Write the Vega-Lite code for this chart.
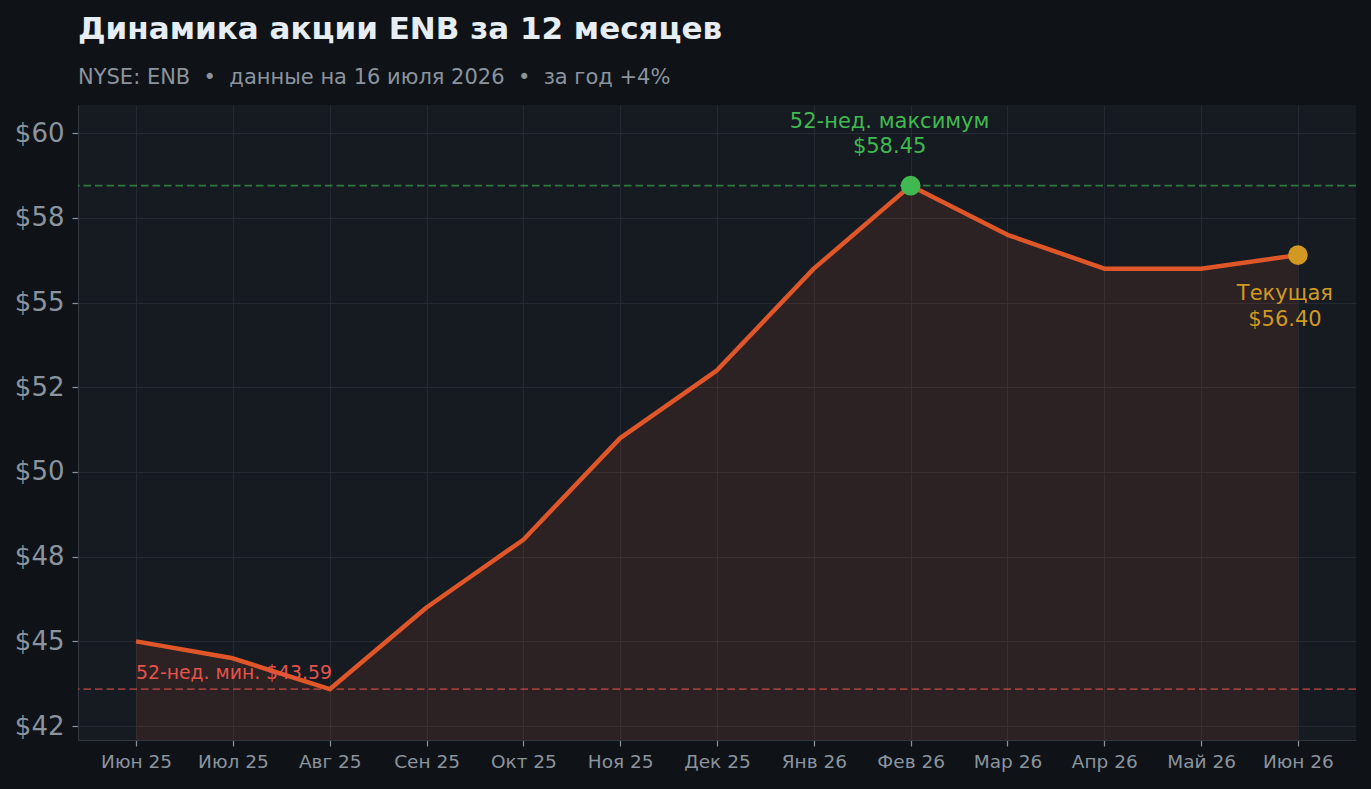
{
  "$schema": "https://vega.github.io/schema/vega-lite/v6.json",
  "width": 1278,
  "height": 635,
  "autosize": "none",
  "padding": {"left": 78, "top": 105, "right": 15, "bottom": 49},
  "background": "#0f1317",
  "title": {
    "text": "Динамика акции ENB за 12 месяцев",
    "subtitle": "NYSE: ENB\u00a0\u00a0•\u00a0\u00a0данные на 16 июля 2026\u00a0\u00a0•\u00a0\u00a0за год +4%",
    "anchor": "start",
    "frame": "group",
    "font": "DejaVu Sans",
    "fontSize": 31,
    "fontWeight": "bold",
    "color": "#e6edf3",
    "subtitleFont": "DejaVu Sans",
    "subtitleFontSize": 21,
    "subtitleColor": "#8b949e",
    "subtitlePadding": 21,
    "offset": 16
  },
  "datasets": {
    "prices": [
      {"month": "Июн 25", "price": 45.0},
      {"month": "Июл 25", "price": 44.5},
      {"month": "Авг 25", "price": 43.59},
      {"month": "Сен 25", "price": 46.0},
      {"month": "Окт 25", "price": 48.0},
      {"month": "Ноя 25", "price": 51.0},
      {"month": "Дек 25", "price": 53.0},
      {"month": "Янв 26", "price": 56.0},
      {"month": "Фев 26", "price": 58.45},
      {"month": "Мар 26", "price": 57.0},
      {"month": "Апр 26", "price": 56.0},
      {"month": "Май 26", "price": 56.0},
      {"month": "Июн 26", "price": 56.4}
    ],
    "marks": [
      {"kind": "max", "month": "Фев 26", "price": 58.45, "label": ["52-нед. максимум", "$58.45"]},
      {"kind": "current", "month": "Июн 26", "price": 56.4, "label": ["Текущая", "$56.40"]},
      {"kind": "min", "month": "Июн 25", "price": 43.59, "label": "52-нед. мин. $43.59"}
    ]
  },
  "encoding": {
    "x": {
      "field": "month",
      "type": "ordinal",
      "sort": null,
      "scale": {"type": "point", "padding": 0.6, "domain": ["Июн 25", "Июл 25", "Авг 25", "Сен 25", "Окт 25", "Ноя 25", "Дек 25", "Янв 26", "Фев 26", "Мар 26", "Апр 26", "Май 26", "Июн 26"]},
      "axis": {
        "title": null,
        "labelAngle": 0,
        "labelFontSize": 18.5,
        "labelPadding": 6,
        "tickSize": 6,
        "grid": true
      }
    },
    "y": {
      "field": "price",
      "type": "quantitative",
      "scale": {"domain": [42.09, 60.83], "zero": false, "nice": false},
      "axis": {
        "title": null,
        "values": [42.5, 45, 47.5, 50, 52.5, 55, 57.5, 60],
        "labelExpr": "'$' + (datum.value % 1 == 0.5 ? (floor(datum.value) % 2 == 0 ? floor(datum.value) : ceil(datum.value)) : datum.value)",
        "labelFontSize": 26,
        "labelPadding": 8,
        "tickSize": 6
      }
    }
  },
  "layer": [
    {
      "data": {"name": "prices"},
      "mark": {"type": "area", "color": "#e0562a", "opacity": 0.11},
      "encoding": {"y2": {"datum": 42.09}}
    },
    {
      "data": {"name": "marks"},
      "transform": [{"filter": "datum.kind == 'min'"}],
      "mark": {"type": "rule", "color": "#e5534b", "opacity": 0.6, "strokeWidth": 1.7, "strokeDash": [7.5, 4]},
      "encoding": {"x": null}
    },
    {
      "data": {"name": "marks"},
      "transform": [{"filter": "datum.kind == 'max'"}],
      "mark": {"type": "rule", "color": "#3fb950", "opacity": 0.6, "strokeWidth": 1.7, "strokeDash": [7.5, 4]},
      "encoding": {"x": null}
    },
    {
      "data": {"name": "prices"},
      "mark": {"type": "line", "color": "#df5629", "strokeWidth": 4.5, "strokeJoin": "round"},
      "encoding": {}
    },
    {
      "data": {"name": "marks"},
      "transform": [{"filter": "datum.kind != 'min'"}],
      "mark": {"type": "point", "filled": true, "opacity": 1, "size": 390},
      "encoding": {
        "color": {
          "field": "kind",
          "type": "nominal",
          "scale": {"domain": ["max", "current"], "range": ["#3fb950", "#d29922"]},
          "legend": null
        }
      }
    },
    {
      "data": {"name": "marks"},
      "transform": [{"filter": "datum.kind == 'max'"}],
      "mark": {"type": "text", "color": "#3fb950", "fontSize": 21, "align": "center", "baseline": "alphabetic", "dx": -21, "dy": -58, "lineHeight": 25},
      "encoding": {"text": {"field": "label"}}
    },
    {
      "data": {"name": "marks"},
      "transform": [{"filter": "datum.kind == 'current'"}],
      "mark": {"type": "text", "color": "#d29922", "fontSize": 21, "align": "center", "baseline": "alphabetic", "dx": -13, "dy": 45, "lineHeight": 26},
      "encoding": {"text": {"field": "label"}}
    },
    {
      "data": {"name": "marks"},
      "transform": [{"filter": "datum.kind == 'min'"}],
      "mark": {"type": "text", "color": "#e5534b", "fontSize": 18.8, "align": "left", "baseline": "alphabetic", "dy": -10},
      "encoding": {"text": {"field": "label"}}
    }
  ],
  "config": {
    "font": "DejaVu Sans",
    "view": {"fill": "#161b22", "stroke": null},
    "axis": {
      "domainColor": "#30363d",
      "domainWidth": 1.2,
      "tickColor": "#8b949e",
      "tickWidth": 1.2,
      "gridColor": "#252a32",
      "gridWidth": 1,
      "labelColor": "#8b949e",
      "labelFont": "DejaVu Sans"
    },
    "text": {"font": "DejaVu Sans"}
  }
}
